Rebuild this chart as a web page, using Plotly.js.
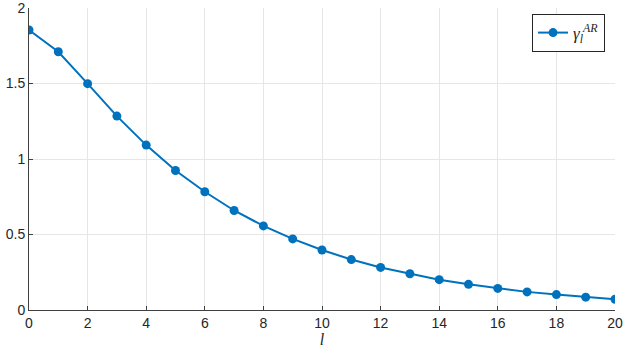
<!DOCTYPE html>
<html lang="en">
<head>
    <meta charset="UTF-8">
    <title>gamma AR</title>
    <script src="https://cdn.plot.ly/plotly-3.0.1.min.js"></script>
    <style>
        body { margin: 0; padding: 0; background: #fff; }
        #chart { width: 623px; height: 351px; }
    </style>
</head>
<body>
    <div id="chart"></div>
    <script>
        // lag index and autocovariance values
        const lags = [0, 1, 2, 3, 4, 5, 6, 7, 8, 9, 10, 11, 12, 13, 14, 15, 16, 17, 18, 19, 20];
        const gammaAR = [1.854, 1.71, 1.499, 1.284, 1.092, 0.924, 0.783, 0.659, 0.557, 0.471, 0.397,
                         0.334, 0.282, 0.240, 0.201, 0.170, 0.143, 0.120, 0.102, 0.085, 0.071];
        const xTicks = [0, 2, 4, 6, 8, 10, 12, 14, 16, 18, 20];
        const yTicks = [0, 0.5, 1, 1.5, 2];
        const yTickText = ['0', '0.5', '1', '1.5', '2'];

        const trace = {
            x: lags,
            y: gammaAR,
            type: 'scatter',
            mode: 'lines+markers',
            name: '<i>γ<sub>l</sub><sup>AR</sup></i>',
            line: { color: '#0072BD', width: 2 },
            marker: { color: '#0072BD', size: 9 }
        };

        const axisCommon = {
            showgrid: true,
            gridcolor: '#e6e6e6',
            gridwidth: 1,
            zeroline: false,
            showline: true,
            linecolor: '#404040',
            linewidth: 1,
            ticks: 'inside',
            ticklen: 4,
            tickcolor: '#404040',
            ticklabeloverflow: 'allow',
            tickfont: { family: 'Arial', size: 14, color: '#262626' }
        };

        const layout = {
            width: 623,
            height: 351,
            margin: { l: 29, r: 8, t: 8, b: 41 },
            paper_bgcolor: '#fff',
            plot_bgcolor: '#fff',
            showlegend: true,
            xaxis: Object.assign({}, axisCommon, {
                range: [0, 20],
                tickvals: xTicks,
                title: { text: '<i>l</i>', font: { family: 'Times New Roman, serif', size: 16, color: '#262626' }, standoff: 4 }
            }),
            yaxis: Object.assign({}, axisCommon, {
                range: [0, 2],
                tickvals: yTicks,
                ticktext: yTickText
            }),
            legend: {
                x: 0.983, y: 0.98,
                xanchor: 'right', yanchor: 'top',
                bgcolor: '#fff',
                bordercolor: '#262626',
                borderwidth: 1,
                font: { family: 'Times New Roman, serif', size: 17, color: '#262626' }
            }
        };

        Plotly.newPlot('chart', [trace], layout, { staticPlot: true });
    </script>
</body>
</html>
